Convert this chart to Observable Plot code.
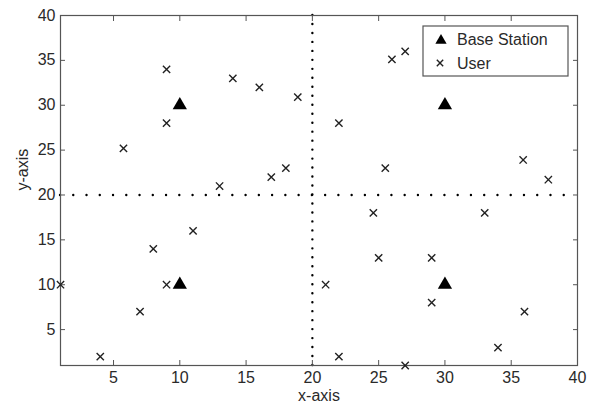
<!DOCTYPE html>
<html><head><meta charset="utf-8">
<script src="https://cdn.jsdelivr.net/npm/d3@7"></script>
<script src="https://cdn.jsdelivr.net/npm/@observablehq/plot@0.6"></script>
<style>body{margin:0;background:#fff;} #chart{width:593px;height:403px;}</style>
</head><body><div id="chart"></div>
<script>
// Base stations
const baseX = [10, 10, 30, 30];
const baseY = [10, 30, 30, 10];
// Users
const userX = [9, 9, 5.75, 14, 16, 18.9, 13, 16.9, 18, 11, 8, 9, 1, 7, 4, 22, 26, 27, 25.5, 24.6, 33, 25, 29, 21, 29, 22, 27, 34, 36, 35.9, 37.8];
const userY = [34, 28, 25.2, 33, 32, 30.9, 21, 22, 23, 16, 14, 10, 10, 7, 2, 28, 35.1, 36, 23, 18, 18, 13, 13, 10, 8, 2, 1, 3, 7, 23.9, 21.7];
// Axes
const tickValues = [5, 10, 15, 20, 25, 30, 35, 40];
const xDomain = [1, 40];
const yDomain = [1, 40];
const xLabel = "x-axis";
const yLabel = "y-axis";
const dividerX = [20];
const dividerY = [20];
const legendLabels = ["Base Station", "User"];

const base = baseX.map((x, i) => ({x, y: baseY[i]}));
const users = userX.map((x, i) => ({x, y: userY[i]}));

const W = 593, H = 403, mL = 60, mR = 16, mT = 15, mB = 38;
const font = "Arial, 'Liberation Sans', sans-serif";
const axisColor = "#555";
const textColor = "#2a2a2a";

const plot = Plot.plot({
  width: W, height: H,
  marginLeft: mL, marginRight: mR, marginTop: mT, marginBottom: mB,
  style: {fontFamily: font, fontSize: "16px", color: textColor, background: "#fff", overflow: "visible"},
  x: {domain: xDomain},
  y: {domain: yDomain},
  marks: [
    Plot.ruleX(dividerX, {stroke: "#000", strokeWidth: 2.4, strokeLinecap: "round", strokeDasharray: `0 ${(H - mT - mB) / 39}`}),
    Plot.ruleY(dividerY, {stroke: "#000", strokeWidth: 2.4, strokeLinecap: "round", strokeDasharray: `0 ${(W - mL - mR) / 39}`}),
    Plot.axisX({ticks: tickValues, tickSize: 0, tickPadding: 6, label: null}),
    Plot.axisX({ticks: tickValues, tickSize: -5, tickFormat: () => "", label: null, stroke: axisColor}),
    Plot.axisX({anchor: "top", ticks: tickValues, tickSize: -5, tickFormat: () => "", label: null, stroke: axisColor}),
    Plot.axisY({ticks: tickValues, tickSize: 0, tickPadding: 5, label: null}),
    Plot.axisY({ticks: tickValues, tickSize: -5, tickFormat: () => "", label: null, stroke: axisColor}),
    Plot.axisY({anchor: "right", ticks: tickValues, tickSize: -5, tickFormat: () => "", label: null, stroke: axisColor}),
    Plot.frame({stroke: axisColor, strokeWidth: 1.2}),
    Plot.dot(users, {x: "x", y: "y", symbol: "times", r: 3.4, stroke: "#222", strokeWidth: 1.4}),
    Plot.dot(base, {x: "x", y: "y", symbol: "triangle", r: 5.3, fill: "#000", stroke: "none"}),
    Plot.text([xLabel], {text: d => d, frameAnchor: "bottom", lineAnchor: "middle", dy: 30, fontSize: 16, fill: textColor}),
    Plot.text([yLabel], {text: d => d, frameAnchor: "left", lineAnchor: "middle", rotate: -90, dx: -38, fontSize: 16, fill: textColor})
  ]
});

// Legend (inside plot, top-right)
const svg = d3.select(plot);
const lg = svg.append("g").attr("font-family", font).attr("font-size", 16).attr("fill", textColor).attr("text-anchor", "start");
lg.append("rect").attr("x", 423).attr("y", 26).attr("width", 145).attr("height", 50)
  .attr("fill", "#fff").attr("stroke", axisColor).attr("stroke-width", 1.2);
lg.append("path").attr("d", d3.symbol(d3.symbolTriangle, 55)()).attr("transform", "translate(441,40.5)").attr("fill", "#000");
lg.append("path").attr("d", d3.symbol(d3.symbolTimes, Math.PI * 3.0 * 3.0)()).attr("transform", "translate(440,63)")
  .attr("fill", "none").attr("stroke", "#222").attr("stroke-width", 1.4);
lg.append("text").attr("x", 457).attr("y", 39.5).attr("dy", "0.35em").attr("text-anchor", "start").text(legendLabels[0]);
lg.append("text").attr("x", 457).attr("y", 63).attr("dy", "0.35em").attr("text-anchor", "start").text(legendLabels[1]);

document.getElementById("chart").append(plot);
</script>
</body></html>
